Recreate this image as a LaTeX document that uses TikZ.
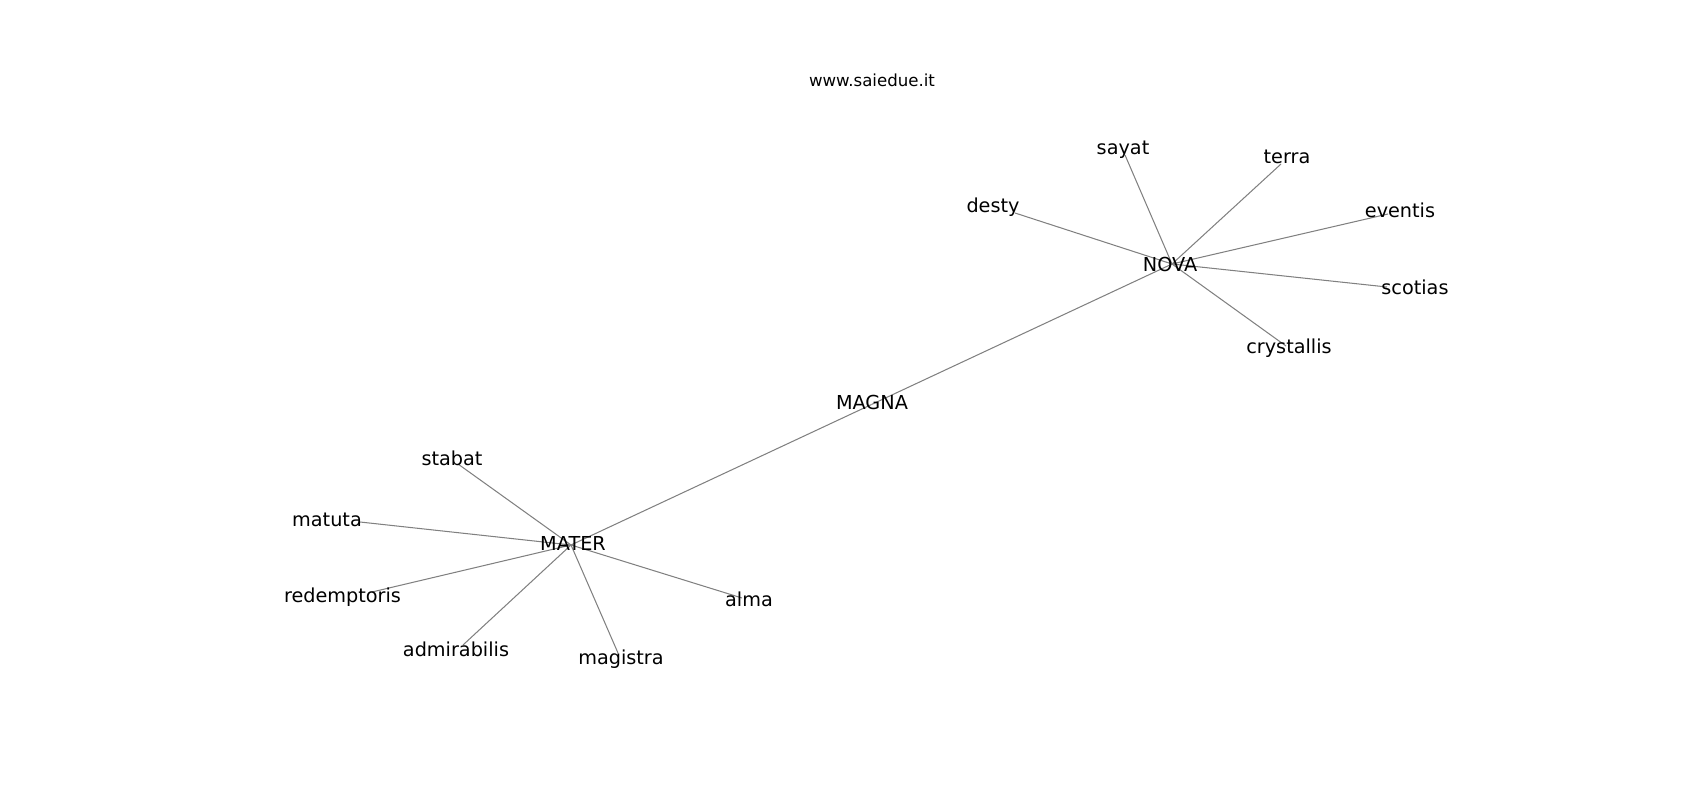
\documentclass[tikz,border=0pt]{standalone}
\usepackage{fontspec}
\setmainfont{DejaVu Sans}
\definecolor{edgegray}{RGB}{128,128,128}
\begin{document}
\begin{tikzpicture}[x=0.01in,y=-0.01in,
  lbl/.style={anchor=base,inner sep=0pt,font=\fontsize{13.9}{16}\selectfont,text=black},
  wmark/.style={anchor=base,inner sep=0pt,font=\fontsize{12}{14}\selectfont,text=black},
  edge/.style={draw=edgegray,line width=0.75pt}]
\useasboundingbox (0,0) rectangle (1700,800);
% node positions
\coordinate (pNOVA) at (1172,264);
\coordinate (pMATER) at (571,545);
\coordinate (pMAGNA) at (871.5,404.5);
\coordinate (psayat) at (1125,155);
\coordinate (pterra) at (1281,164);
\coordinate (pdesty) at (1015,213);
\coordinate (peventis) at (1388,214);
\coordinate (pscotias) at (1387,287);
\coordinate (pcrystallis) at (1286,346);
\coordinate (pstabat) at (458,464);
\coordinate (pmatuta) at (360,522);
\coordinate (predemptoris) at (372,592);
\coordinate (padmirabilis) at (463,645);
\coordinate (pmagistra) at (618,653);
\coordinate (palma) at (742,598);
% edges
\draw[edge] (pMATER) -- (pMAGNA);
\draw[edge] (pMAGNA) -- (pNOVA);
\foreach \t in {sayat,terra,desty,eventis,scotias,crystallis}
  \draw[edge] (pNOVA) -- (p\t);
\foreach \t in {stabat,matuta,redemptoris,admirabilis,magistra,alma}
  \draw[edge] (pMATER) -- (p\t);
% labels
\node[wmark] (www) at (872,87) {www.saiedue.it};
\node[lbl] (NOVA) at (1170,271.7) {NOVA};
\node[lbl] (MAGNA) at (872,410) {MAGNA};
\node[lbl] (MATER) at (573,550) {MATER};
\node[lbl] (sayat) at (1123,155) {sayat};
\node[lbl] (terra) at (1287,164) {terra};
\node[lbl] (desty) at (993,212.7) {desty};
\node[lbl] (eventis) at (1400,217.3) {eventis};
\node[lbl] (scotias) at (1415,294.3) {scotias};
\node[lbl] (crystallis) at (1289,354) {crystallis};
\node[lbl] (stabat) at (452,465.7) {stabat};
\node[lbl] (matuta) at (327,526) {matuta};
\node[lbl] (redemptoris) at (342.5,602.7) {redemptoris};
\node[lbl] (alma) at (749,606.7) {alma};
\node[lbl] (admirabilis) at (456,656) {admirabilis};
\node[lbl] (magistra) at (621,664.3) {magistra};
\end{tikzpicture}
\end{document}
